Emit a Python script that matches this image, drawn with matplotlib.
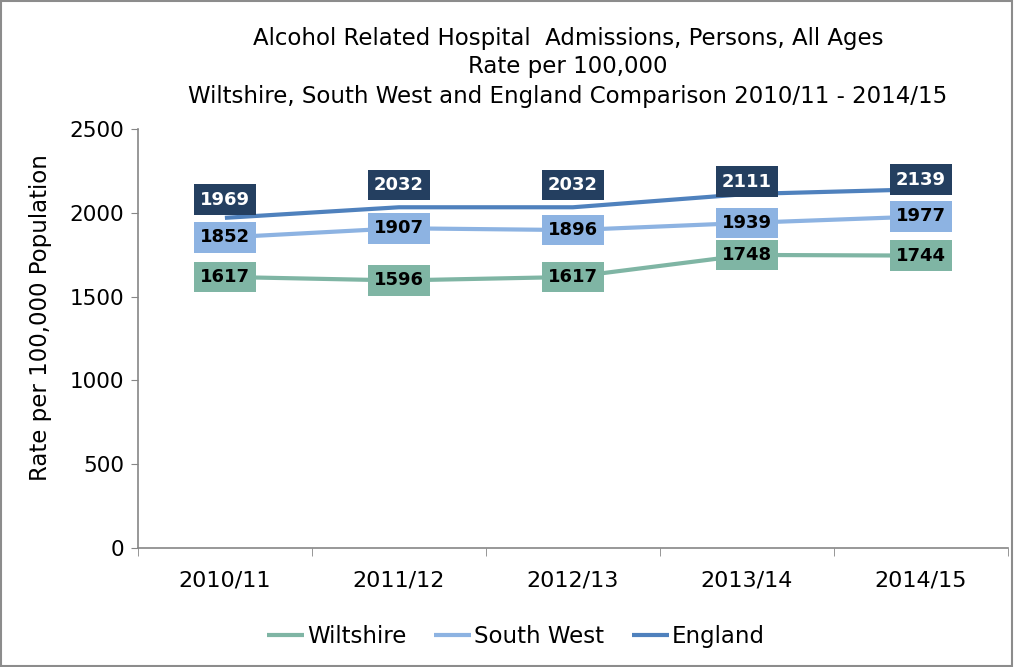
import matplotlib
matplotlib.use("Agg")
import matplotlib.pyplot as plt
from matplotlib.patches import Rectangle

years = ["2010/11", "2011/12", "2012/13", "2013/14", "2014/15"]
wiltshire = [1617, 1596, 1617, 1748, 1744]
south_west = [1852, 1907, 1896, 1939, 1977]
england = [1969, 2032, 2032, 2111, 2139]

# vertical label offsets (points) for each series
centred = [0, 0, 0, 0, 0]
above = [13, 16, 16, 9, 7]

series = [
    ("Wiltshire", wiltshire, "#7fb5a4", "#7fb5a4", "black", centred),
    ("South West", south_west, "#8db3e2", "#8db3e2", "black", centred),
    ("England", england, "#4f81bd", "#243f60", "white", above),
]

plt.rcParams["font.family"] = ["DejaVu Sans"]

fig = plt.figure(figsize=(10.14, 6.67), dpi=100)
ax = fig.add_axes([0.136, 0.178, 0.858, 0.629])

x = list(range(len(years)))
for name, vals, lc, bc, tc, offs in series:
    ax.plot(x, vals, color=lc, lw=3, label=name, solid_capstyle="butt", zorder=2)
    for xi, v, dy in zip(x, vals, offs):
        ax.annotate(f"{v}", (xi, v), xytext=(0, dy), textcoords="offset points",
                    ha="center", va="center", fontsize=13, fontweight="bold",
                    color=tc, zorder=5,
                    bbox=dict(boxstyle="square,pad=0.35", fc=bc, ec="none"))

ax.set_xlim(-0.5, len(years) - 0.5)
ax.set_ylim(0, 2500)
ax.set_yticks([0, 500, 1000, 1500, 2000, 2500])
ax.set_xticks(x)
ax.set_xticklabels(years)
ax.set_xticks([i - 0.5 for i in range(len(years) + 1)], minor=True)
ax.tick_params(axis="x", which="major", length=0, pad=16, labelsize=16)
ax.tick_params(axis="x", which="minor", length=6, color="#868686", direction="out")
ax.tick_params(axis="y", length=5, color="#868686", labelsize=15.5, pad=5)
for s in ["top", "right"]:
    ax.spines[s].set_visible(False)
for s in ["left", "bottom"]:
    ax.spines[s].set_color("#868686")
    ax.spines[s].set_linewidth(1.2)

ax.set_ylabel("Rate per 100,000 Population", fontsize=16.5)
ax.yaxis.set_label_coords(-0.099, 0.551)

title_lines = [
    "Alcohol Related Hospital  Admissions, Persons, All Ages",
    "Rate per 100,000",
    "Wiltshire, South West and England Comparison 2010/11 - 2014/15",
]
for ty, line in zip([0.943, 0.901, 0.856], title_lines):
    fig.text(0.56, ty, line, ha="center", va="center", fontsize=16.5,
             family="DejaVu Sans Condensed")

fig.legend(loc="center", bbox_to_anchor=(0.509, 0.046), ncol=3, frameon=False,
           fontsize=16.5, handlelength=1.6, handletextpad=0.15, columnspacing=1.2)

fig.patches.append(Rectangle((0.001, 0.001), 0.997, 0.997, transform=fig.transFigure,
                             fill=False, ec="#8c8c8c", lw=1.5))

fig.savefig("out.png", dpi=100)
